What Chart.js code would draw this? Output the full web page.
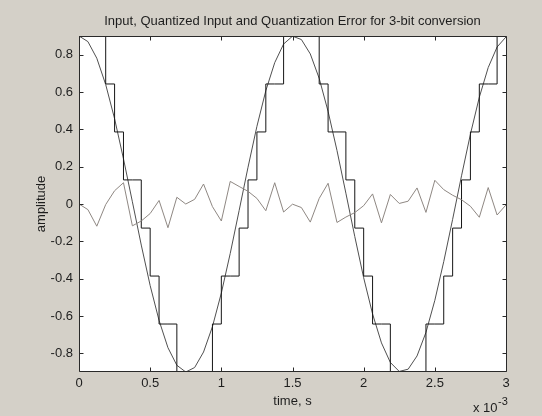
<!DOCTYPE html>
<html>
<head>
<meta charset="utf-8">
<script src="https://cdn.jsdelivr.net/npm/chart.js@4.4.1/dist/chart.umd.min.js"></script>
<style>
html, body { margin: 0; padding: 0; background: #d4d0c8; }
#wrap { width: 542px; height: 416px; }
</style>
</head>
<body>
<div id="wrap"><canvas id="c" width="542" height="416"></canvas></div>
<script>
// ---- data (time in units of 1e-3 s) ----
const timeMs = [0, 0.0625, 0.125, 0.1875, 0.25, 0.3125, 0.375, 0.4375, 0.5, 0.5625,
  0.625, 0.6875, 0.75, 0.8125, 0.875, 0.9375, 1, 1.0625, 1.125, 1.1875,
  1.25, 1.3125, 1.375, 1.4375, 1.5, 1.5625, 1.625, 1.6875, 1.75, 1.8125,
  1.875, 1.9375, 2, 2.0625, 2.125, 2.1875, 2.25, 2.3125, 2.375, 2.4375,
  2.5, 2.5625, 2.625, 2.6875, 2.75, 2.8125, 2.875, 2.9375, 3];

const inputSignal = [0.900, 0.870, 0.781, 0.640, 0.457, 0.242, 0.012, -0.220, -0.437, -0.624,
  -0.770, -0.864, -0.900, -0.876, -0.793, -0.657, -0.477, -0.265, -0.035, 0.197,
  0.416, 0.607, 0.757, 0.857, 0.899, 0.881, 0.804, 0.673, 0.496, 0.287,
  0.058, -0.174, -0.395, -0.589, -0.744, -0.849, -0.897, -0.885, -0.814, -0.688,
  -0.516, -0.309, -0.082, 0.151, 0.374, 0.572, 0.731, 0.841, 0.895];

const quantizedInput = [0.9, 0.9, 0.9, 0.643, 0.386, 0.129, 0.129, -0.129, -0.386, -0.643,
  -0.643, -0.9, -0.9, -0.9, -0.9, -0.643, -0.386, -0.386, -0.129, 0.129,
  0.386, 0.643, 0.643, 0.9, 0.9, 0.9, 0.9, 0.643, 0.386, 0.386,
  0.129, -0.129, -0.386, -0.643, -0.643, -0.9, -0.9, -0.9, -0.9, -0.643,
  -0.643, -0.386, -0.129, 0.129, 0.386, 0.643, 0.643, 0.9, 0.9];

const quantError = [0, -0.030, -0.119, -0.003, 0.071, 0.114, -0.117, -0.091, -0.051, 0.019,
  -0.127, 0.036, 0.000, 0.025, 0.107, -0.014, -0.091, 0.121, 0.094, 0.068,
  0.030, -0.036, 0.114, -0.043, -0.001, -0.019, -0.097, 0.030, 0.111, -0.099,
  -0.070, -0.046, -0.009, 0.054, -0.101, 0.051, 0.003, 0.015, 0.086, -0.045,
  0.127, 0.077, 0.047, 0.023, -0.012, -0.071, 0.088, -0.059, -0.005];

const xTicks = [0, 0.5, 1, 1.5, 2, 2.5, 3];
const xTickLabels = ['0', '0.5', '1', '1.5', '2', '2.5', '3'];
const yTicks = [-0.8, -0.6, -0.4, -0.2, 0, 0.2, 0.4, 0.6, 0.8];
const yTickLabels = ['-0.8', '-0.6', '-0.4', '-0.2', '0', '0.2', '0.4', '0.6', '0.8'];

const titleText = 'Input, Quantized Input and Quantization Error for 3-bit conversion';
const xLabel = 'time, s';
const yLabel = 'amplitude';
const xExpBase = 'x 10';
const xExpPower = '-3';

// ---- styling ----
const BG = '#d4d0c8';
const TXT = '#1e1e1e';
const AXIS = '#2a2a2a';
const FONT = "'Liberation Sans', Arial, Helvetica, sans-serif";

function pts(ys) { return timeMs.map((t, i) => ({ x: t, y: ys[i] })); }

const framePlugin = {
  id: 'frame',
  beforeDraw(chart) {
    const { ctx, chartArea: a } = chart;
    ctx.save();
    ctx.fillStyle = BG;
    ctx.fillRect(0, 0, chart.width, chart.height);
    ctx.fillStyle = '#ffffff';
    ctx.fillRect(a.left, a.top, a.right - a.left, a.bottom - a.top);
    ctx.restore();
  },
  afterDatasetsDraw(chart) {
    const { ctx, chartArea: a, scales } = chart;
    const L = Math.round(a.left) + 0.5, R = Math.round(a.right) + 0.5;
    const T = Math.round(a.top) + 0.5, B = Math.round(a.bottom) - 0.5;
    const tl = 4;
    ctx.save();
    ctx.strokeStyle = AXIS;
    ctx.lineWidth = 1;
    ctx.beginPath();
    ctx.rect(L, T, R - L, B - T);
    scales.x.ticks.forEach(tk => {
      const px = Math.round(scales.x.getPixelForValue(tk.value)) + 0.5;
      ctx.moveTo(px, B); ctx.lineTo(px, B - tl);
      ctx.moveTo(px, T); ctx.lineTo(px, T + tl);
    });
    scales.y.ticks.forEach(tk => {
      const py = Math.round(scales.y.getPixelForValue(tk.value)) + 0.5;
      ctx.moveTo(L, py); ctx.lineTo(L + tl, py);
      ctx.moveTo(R, py); ctx.lineTo(R - tl, py);
    });
    ctx.stroke();
    ctx.restore();
  },
  afterDraw(chart) {
    const { ctx, chartArea: a } = chart;
    ctx.save();
    ctx.fillStyle = TXT;
    ctx.textBaseline = 'alphabetic';
    ctx.textAlign = 'left';
    ctx.font = '13px ' + FONT;
    const baseX = a.right - 33;
    ctx.fillText(xExpBase, baseX, 411.5);
    const w = ctx.measureText(xExpBase).width;
    ctx.font = '11px ' + FONT;
    ctx.fillText(xExpPower, baseX + w + 0.5, 404.5);
    ctx.restore();
  }
};

Chart.defaults.font.family = FONT;
Chart.defaults.font.size = 13;
Chart.defaults.color = TXT;

new Chart(document.getElementById('c'), {
  type: 'line',
  data: {
    datasets: [
      {
        label: 'Input',
        data: pts(inputSignal),
        borderColor: '#505050',
        borderWidth: 1,
        pointRadius: 0,
        tension: 0,
        fill: false,
        order: 2
      },
      {
        label: 'Quantized input',
        data: pts(quantizedInput),
        borderColor: '#161616',
        borderWidth: 1,
        pointRadius: 0,
        stepped: 'before',
        fill: false,
        order: 1
      },
      {
        label: 'Quantization error',
        data: pts(quantError),
        borderColor: '#8f8883',
        borderWidth: 1,
        pointRadius: 0,
        tension: 0,
        fill: false,
        order: 0
      }
    ]
  },
  options: {
    responsive: false,
    devicePixelRatio: 1,
    animation: false,
    events: [],
    layout: { padding: { left: 0, right: 36, top: 0, bottom: 0 } },
    plugins: {
      legend: { display: false },
      tooltip: { enabled: false },
      title: {
        display: true,
        text: titleText,
        fullSize: false,
        color: TXT,
        font: { size: 13, weight: 'normal' },
        padding: { top: 14, bottom: 6.4 }
      }
    },
    scales: {
      x: {
        type: 'linear',
        position: 'bottom',
        min: 0,
        max: 3,
        afterBuildTicks: s => { s.ticks = xTicks.map(v => ({ value: v })); },
        afterFit: s => { s.height = 44; },
        grid: { display: false, drawTicks: false },
        border: { display: false },
        ticks: {
          padding: 4,
          maxRotation: 0,
          autoSkip: false,
          color: TXT,
          font: { size: 13 },
          callback: (v, i) => xTickLabels[i]
        },
        title: {
          display: true,
          text: xLabel,
          color: TXT,
          font: { size: 13 },
          padding: { top: 0, bottom: 7 }
        }
      },
      y: {
        type: 'linear',
        position: 'left',
        min: -0.9,
        max: 0.9,
        afterBuildTicks: s => { s.ticks = yTicks.map(v => ({ value: v })); },
        afterFit: s => { s.width = 79; },
        grid: { display: false, drawTicks: false },
        border: { display: false },
        ticks: {
          padding: 6,
          autoSkip: false,
          color: TXT,
          font: { size: 13 },
          callback: (v, i) => yTickLabels[i]
        },
        title: {
          display: true,
          text: yLabel,
          color: TXT,
          font: { size: 13 },
          padding: { top: 34, bottom: 0 }
        }
      }
    }
  },
  plugins: [framePlugin]
});
</script>
</body>
</html>
